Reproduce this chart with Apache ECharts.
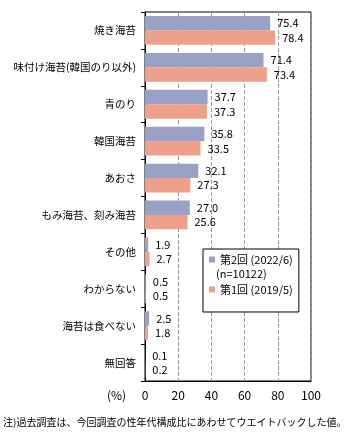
<!DOCTYPE html>
<html><head><meta charset="utf-8">
<script src="https://cdn.jsdelivr.net/npm/echarts@6/dist/echarts.min.js"></script>
<style>html,body{margin:0;padding:0;background:#fff}#c{width:359px;height:436px}</style>
</head><body><div id="c"></div>
<script>
const categories = ['焼き海苔','味付け海苔(韓国のり以外)','青のり','韓国海苔','あおさ','もみ海苔、刻み海苔','その他','わからない','海苔は食べない','無回答'];
const series2 = [75.4, 71.4, 37.7, 35.8, 32.1, 27.0, 1.9, 0.5, 2.5, 0.1];
const series1 = [78.4, 73.4, 37.3, 33.5, 27.3, 25.6, 2.7, 0.5, 1.8, 0.2];
const name2 = '第2回 (2022/6)';
const name1 = '第1回 (2019/5)';
const nNote = '(n=10122)';
const xTicks = [0, 20, 40, 60, 80, 100];
const unitLabel = '(%)';
const note = '注)過去調査は、今回調査の性年代構成比にあわせてウエイトバックした値。';

const FONT = '"Noto Sans CJK JP", sans-serif';
const chart = echarts.init(document.getElementById('c'));
const lbl = {show: true, position: 'right', distance: 7, color: '#000', fontSize: 11, fontFamily: FONT,
  formatter: p => p.value.toFixed(1)};
chart.setOption({
  animation: false,
  textStyle: {fontFamily: FONT},
  grid: {left: 145, right: 48, top: 12, bottom: 55, show: true, borderColor: '#000', borderWidth: 1},
  xAxis: {type: 'value', min: xTicks[0], max: xTicks[xTicks.length-1], interval: 20,
    axisLine: {show: true, lineStyle: {color: '#000'}}, axisTick: {show: false},
    axisLabel: {color: '#000', fontSize: 12, margin: 8, fontFamily: FONT},
    splitLine: {show: true, lineStyle: {color: '#999', type: [4, 2], width: 1}}},
  yAxis: {type: 'category', data: categories, inverse: true,
    axisLine: {show: true, lineStyle: {color: '#000'}},
    axisTick: {show: true, length: 4, lineStyle: {color: '#000'}},
    axisLabel: {color: '#000', fontSize: 10.5, margin: 9, fontFamily: FONT}},
  legend: {orient: 'vertical', left: 203, top: 249, data: [name2, name1],
    backgroundColor: '#fff', borderColor: '#000', borderWidth: 1,
    padding: [5, 6, 17, 6], itemGap: 19, itemWidth: 6, itemHeight: 6, icon: 'rect',
    textStyle: {color: '#000', fontSize: 11, fontFamily: FONT}},
  graphic: [
    {type: 'text', left: 216, top: 268, style: {text: nNote, fill: '#000', font: '11px ' + FONT}, z: 100},
    {type: 'text', left: 107, top: 389, style: {text: unitLabel, fill: '#000', font: '12px ' + FONT}},
    {type: 'text', left: 3, top: 417, style: {text: note, fill: '#000', font: '10px ' + FONT}}
  ],
  series: [
    {name: name2, type: 'bar', data: series2, barGap: '0%', barCategoryGap: '22%',
      itemStyle: {color: '#9AA1C7'}, label: lbl},
    {name: name1, type: 'bar', data: series1, barGap: '0%', barCategoryGap: '22%',
      itemStyle: {color: '#EEA08A'}, label: lbl}
  ]
});
</script></body></html>
